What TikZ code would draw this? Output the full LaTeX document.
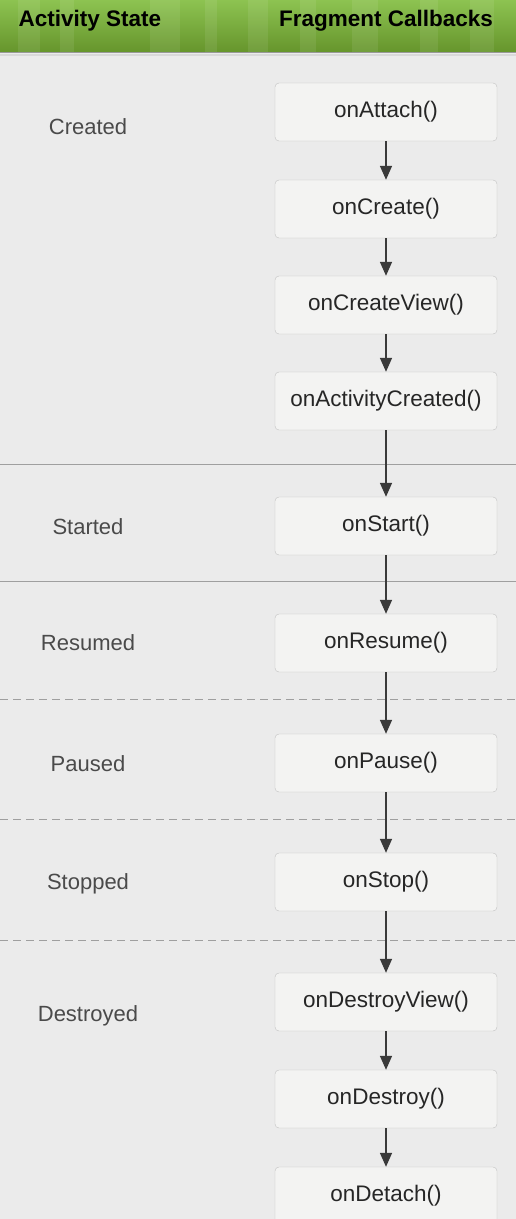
\documentclass[tikz,border=0pt]{standalone}
\usepackage{fontspec}
\setmainfont{Liberation Sans}
\usetikzlibrary{arrows.meta}
\definecolor{pagebg}{HTML}{EBEBEB}
\definecolor{boxfill}{HTML}{F3F3F2}
\definecolor{boxline}{HTML}{C2C2C2}
\definecolor{statetext}{HTML}{4A4A4A}
\definecolor{arrowgray}{HTML}{3A3A3A}
\definecolor{headtop}{HTML}{8DC351}
\definecolor{headbot}{HTML}{66952C}
\tikzset{
  callback/.style={draw=boxline,fill=boxfill,rounded corners=4pt,
    minimum width=222pt,minimum height=58pt,text=black!85,
    font=\fontsize{22.5}{26}\selectfont},
  state/.style={text=statetext,font=\fontsize{22}{26}\selectfont},
  heading/.style={font=\fontsize{22.5}{26}\selectfont\bfseries},
  flow/.style={arrowgray,line width=1.5pt,-{Triangle[length=14pt,width=12pt]}},
  divider/.style={gray!75,line width=1pt},
}
\begin{document}
\begin{tikzpicture}[x=1pt,y=-1pt]
  \useasboundingbox (0,0) rectangle (516,1219);
  \clip (0,0) rectangle (516,1219);
  \fill[pagebg] (0,0) rectangle (516,1219);
  % header bar
  \shade[top color=headtop,bottom color=headbot] (0,0) rectangle (516,52);
  \foreach \x/\w in {18/22,60/14,150/30,205/12,248/20,300/16,352/26,420/18,470/24}
    \fill[white,opacity=0.08] (\x,0) rectangle ++(\w,52);
  \draw[gray!80,line width=1pt] (0,52.5)--(516,52.5);
  \draw[gray!30,line width=1.5pt] (0,55)--(516,55);
  \node[heading] (hstate) at (90,21) {Activity State};
  \node[heading] (hcall) at (386,21) {Fragment Callbacks};
  % state borders
  \draw[divider] (0,464)--(516,464);
  \draw[divider] (0,581)--(516,581);
  \draw[divider,dashed,dash pattern=on 8pt off 5pt] (0,699)--(516,699);
  \draw[divider,dashed,dash pattern=on 8pt off 5pt] (0,819)--(516,819);
  \draw[divider,dashed,dash pattern=on 8pt off 5pt] (0,940)--(516,940);
  % activity states
  \node[state] (created) at (88,127) {Created};
  \node[state] (started) at (88,527) {Started};
  \node[state] (resumed) at (88,643) {Resumed};
  \node[state] (paused) at (88,764) {Paused};
  \node[state] (stopped) at (88,884) {Stopped};
  \node[state] (destroyed) at (88,1016) {Destroyed};
  % fragment callbacks
  \node[callback] (attach) at (386,112) {onAttach()};
  \node[callback] (create) at (386,209) {onCreate()};
  \node[callback] (createview) at (386,305) {onCreateView()};
  \node[callback] (actcreated) at (386,401) {onActivityCreated()};
  \node[callback] (start) at (386,526) {onStart()};
  \node[callback] (resume) at (386,643) {onResume()};
  \node[callback] (pause) at (386,763) {onPause()};
  \node[callback] (stop) at (386,882) {onStop()};
  \node[callback] (destroyview) at (386,1002) {onDestroyView()};
  \node[callback] (destroy) at (386,1099) {onDestroy()};
  \node[callback] (detach) at (386,1196) {onDetach()};
  \foreach \a/\b in {attach/create,create/createview,createview/actcreated,
    actcreated/start,start/resume,resume/pause,pause/stop,stop/destroyview,
    destroyview/destroy,destroy/detach}
    \draw[flow] (\a) -- (\b);
\end{tikzpicture}
\end{document}
